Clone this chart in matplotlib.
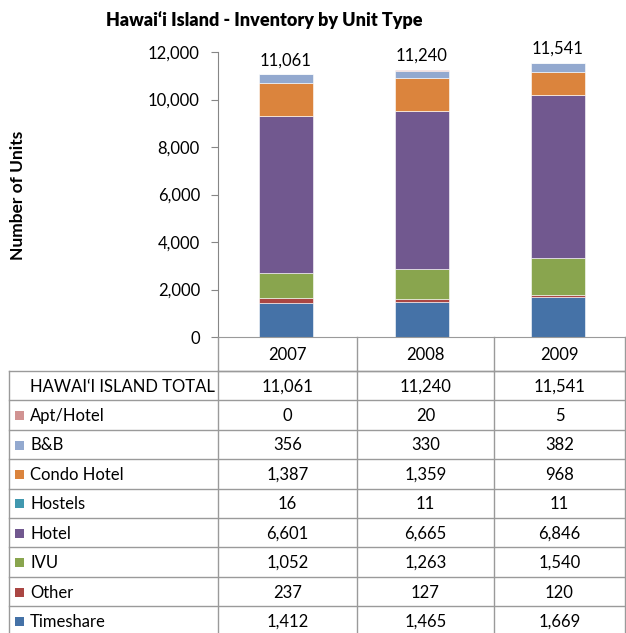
import matplotlib.pyplot as plt
from matplotlib.patches import Rectangle

years = ['2007', '2008', '2009']
totals = [11061, 11240, 11541]
# listed in table order (top to bottom)
unit_types = ['Apt/Hotel', 'B&B', 'Condo Hotel', 'Hostels', 'Hotel', 'IVU', 'Other', 'Timeshare']
apt_hotel = [0, 20, 5]
bnb = [356, 330, 382]
condo_hotel = [1387, 1359, 968]
hostels = [16, 11, 11]
hotel = [6601, 6665, 6846]
ivu = [1052, 1263, 1540]
other = [237, 127, 120]
timeshare = [1412, 1465, 1669]
colors = ['#D19392', '#93A9CF', '#DB843D', '#4198AF', '#71588F', '#89A54E', '#AA4643', '#4572A7']

series = [apt_hotel, bnb, condo_hotel, hostels, hotel, ivu, other, timeshare]

plt.rcParams['font.family'] = ['Lato', 'DejaVu Sans']

W, H = 626, 633
fig = plt.figure(figsize=(W / 100, H / 100), dpi=100)

# pixel geometry of the Excel-like layout
x_axis = 218
y_top, y_base = 52, 337
col_edges = [218, 357, 494, 625]
line_c = '#9a9a9a'

ax = fig.add_axes([x_axis / W, 1 - y_base / H, (W - x_axis) / W, (y_base - y_top) / H])
bottom = [0, 0, 0]
xs = [0.5, 1.5, 2.5]
for vals, c in zip(reversed(series), reversed(colors)):
    ax.bar(xs, vals, width=0.4, bottom=bottom, color=c, edgecolor='white', linewidth=0.4)
    bottom = [b + v for b, v in zip(bottom, vals)]
for x, t in zip(xs, totals):
    ax.text(x, t + 250, f'{t:,}', ha='center', va='bottom', fontsize=12)

ax.set_xlim(0, 3)
ax.set_ylim(0, 12000)
ax.set_yticks(range(0, 12001, 2000))
ax.set_yticklabels([f'{v:,}' for v in range(0, 12001, 2000)], fontsize=12)
ax.set_xticks([])
for s in ['top', 'right']:
    ax.spines[s].set_visible(False)
ax.spines['left'].set_color('#868686')
ax.spines['bottom'].set_color(line_c)
ax.tick_params(axis='y', color='#868686', length=5, pad=8)
ax.patch.set_alpha(0)

fig.text(264 / W, 1 - 20 / H, 'Hawai‘i Island - Inventory by Unit Type', ha='center', va='center',
         fontsize=13, fontweight='heavy')
fig.text(18 / W, 1 - 195 / H, 'Number of Units', rotation=90, ha='center', va='center',
         fontsize=12.5, fontweight='bold')

# data table drawn in pixel coordinates
tab = fig.add_axes([0, 0, 1, 1])
tab.set_xlim(0, W)
tab.set_ylim(H, 0)
tab.axis('off')
tab.patch.set_alpha(0)

row_h = 29.4
header_bot = 371
n_rows = len(unit_types) + 1
row_edges = [header_bot + i * row_h for i in range(n_rows + 1)]

# header row (years)
for x in col_edges:
    tab.plot([x, x], [y_base, header_bot], color=line_c, lw=1)
tab.plot([col_edges[0], col_edges[-1]], [header_bot, header_bot], color=line_c, lw=1)
for i, yr in enumerate(years):
    cx = (col_edges[i] + col_edges[i + 1]) / 2
    tab.text(cx, (y_base + header_bot) / 2 + 1, yr, ha='center', va='center', fontsize=12)

left = 9
for y in row_edges:
    tab.plot([left, col_edges[-1]], [y, y], color=line_c, lw=1)
for x in [left] + col_edges:
    tab.plot([x, x], [header_bot, row_edges[-1]], color=line_c, lw=1)

labels = ['HAWAI‘I ISLAND TOTAL'] + unit_types
rows = [totals] + series
for r, (lab, vals) in enumerate(zip(labels, rows)):
    cy = (row_edges[r] + row_edges[r + 1]) / 2 + 1
    tab.text(30, cy, lab, ha='left', va='center', fontsize=12)
    if r > 0:
        tab.add_patch(Rectangle((15, cy - 5), 9, 9, color=colors[r - 1], lw=0))
    for i, v in enumerate(vals):
        cx = (col_edges[i] + col_edges[i + 1]) / 2
        tab.text(cx, cy, f'{v:,}', ha='center', va='center', fontsize=12)

fig.savefig('out.png', dpi=100)
